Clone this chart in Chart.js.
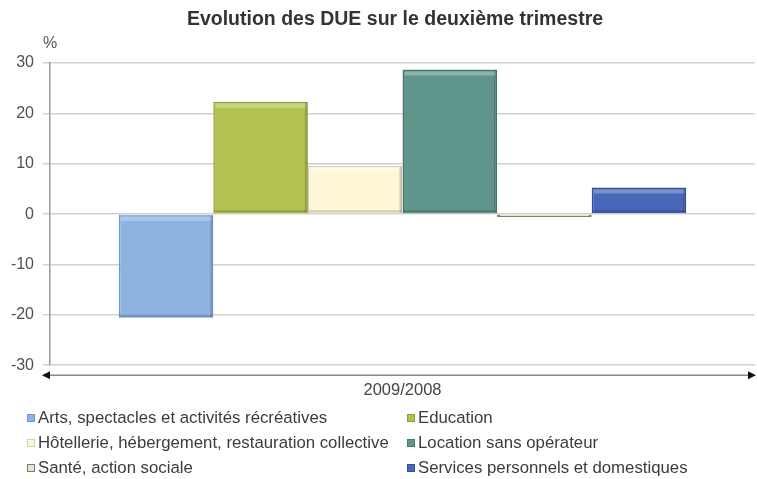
<!DOCTYPE html>
<html>
<head>
<meta charset="utf-8">
<script src="https://cdn.jsdelivr.net/npm/chart.js@4"></script>
<style>
  html, body { margin: 0; padding: 0; background: #fff; }
  #wrap { position: relative; width: 757px; height: 479px; }
  #legend {
    position: absolute; left: 0; top: 0; width: 757px; height: 479px;
    pointer-events: none;
    font-family: "Liberation Sans", Arial, sans-serif; font-size: 16.8px; color: #3c3c3c;
  }
  .item { position: absolute; white-space: nowrap; line-height: 20px; }
  .box { position: absolute; width: 8px; height: 8px; top: 6px; box-sizing: border-box; border: 1px solid; }
</style>
</head>
<body>
<div id="wrap">
  <canvas id="chart" width="757" height="479"></canvas>
  <div id="legend"></div>
</div>
<script>
// Data
const categories = ["2009/2008"];
const seriesNames = [
  "Arts, spectacles et activités récréatives",
  "Education",
  "Hôtellerie, hébergement, restauration collective",
  "Location sans opérateur",
  "Santé, action sociale",
  "Services personnels et domestiques",
];
const seriesValues = [-20.6, 22.3, 9.6, 28.7, -0.6, 5.3];
const yTicks = { min: -30, max: 30, step: 10 };

const fillColors = ["#8db3e0", "#b3c250", "#fdf7d8", "#5f958b", "#dde7d1", "#4767b8"];
const edgeColors = ["#7397c4", "#8e9c38", "#d8d1b2", "#4a7870", "#7d7d72", "#36519a"];

const FONT = "'Liberation Sans', Arial, sans-serif";
const TITLE = "Evolution des DUE sur le deuxième trimestre";

// Bevel-like shading on each bar (light top band, dark right edge)
const bevel = {
  id: "bevel",
  afterDatasetsDraw(chart) {
    const { ctx } = chart;
    ctx.save();
    chart.data.datasets.forEach((ds, i) => {
      chart.getDatasetMeta(i).data.forEach((bar) => {
        const left = bar.x - bar.width / 2;
        const right = bar.x + bar.width / 2;
        const top = Math.min(bar.y, bar.base);
        const bottom = Math.max(bar.y, bar.base);
        const h = bottom - top;
        if (h < 8) return;
        ctx.fillStyle = "rgba(255,255,255,0.28)";
        ctx.fillRect(left + 2, top + 2, right - left - 4, 4);
        ctx.fillStyle = "rgba(0,0,0,0.18)";
        ctx.fillRect(right - 3, top + 1, 2, h - 2);
        ctx.fillRect(left + 1, bottom - 3, right - left - 2, 2);
      });
    });
    ctx.restore();
  },
};

// Title, "%" unit label and the double-headed arrow line under the plot
const decorations = {
  id: "decorations",
  afterDraw(chart) {
    const { ctx, chartArea } = chart;
    ctx.save();
    ctx.fillStyle = "#333";
    ctx.font = "bold 19.5px " + FONT;
    ctx.textAlign = "center";
    ctx.textBaseline = "middle";
    ctx.fillText(TITLE, 395, 20);

    ctx.fillStyle = "#555";
    ctx.font = "16px " + FONT;
    ctx.fillText("%", chartArea.left, chartArea.top - 19);

    const y = chartArea.bottom + 10;
    const x0 = chartArea.left - 8;
    const x1 = chart.width - 1;
    ctx.strokeStyle = "#8a8a8a";
    ctx.lineWidth = 1.5;
    ctx.beginPath();
    ctx.moveTo(x0 + 4, y);
    ctx.lineTo(x1 - 4, y);
    ctx.stroke();
    ctx.fillStyle = "#111";
    ctx.beginPath();
    ctx.moveTo(x0, y); ctx.lineTo(x0 + 8, y - 4); ctx.lineTo(x0 + 8, y + 4); ctx.closePath();
    ctx.fill();
    ctx.beginPath();
    ctx.moveTo(x1, y); ctx.lineTo(x1 - 8, y - 4); ctx.lineTo(x1 - 8, y + 4); ctx.closePath();
    ctx.fill();
    ctx.restore();
  },
};

const chart = new Chart(document.getElementById("chart"), {
  type: "bar",
  data: {
    labels: categories,
    datasets: seriesNames.map((name, i) => ({
      label: name,
      data: [seriesValues[i]],
      backgroundColor: fillColors[i],
      borderColor: edgeColors[i],
      borderWidth: i === 4 ? 3 : 1.5,
    })),
  },
  options: {
    responsive: false,
    animation: false,
    layout: { padding: { top: 63, right: 2, bottom: 64, left: 0 } },
    datasets: { bar: { barPercentage: 1, categoryPercentage: 0.805 } },
    plugins: {
      legend: { display: false },
      tooltip: { enabled: false },
      title: { display: false },
    },
    scales: {
      x: {
        grid: { display: false, drawTicks: false },
        border: { display: false },
        ticks: { color: "#444", font: { family: FONT, size: 16.5 }, padding: 15 },
      },
      y: {
        min: yTicks.min,
        max: yTicks.max,
        afterFit(scale) { scale.width = 50; },
        grid: { color: "#d6cfca", lineWidth: 1.5, tickLength: 7 },
        border: { color: "#9d9793", width: 1.5 },
        ticks: {
          stepSize: yTicks.step,
          padding: 9,
          color: "#505050",
          font: { family: FONT, size: 16 },
        },
      },
    },
  },
  plugins: [bevel, decorations],
});

// Two-column legend under the chart, built from the same series
const legend = document.getElementById("legend");
const colX = [27, 407];
const rowY = [408, 433, 458];
seriesNames.forEach((name, i) => {
  const col = i % 2;
  const row = Math.floor(i / 2);
  const item = document.createElement("div");
  item.className = "item";
  item.style.left = colX[col] + "px";
  item.style.top = rowY[row] + "px";
  item.style.paddingLeft = "11px";
  const box = document.createElement("span");
  box.className = "box";
  box.style.left = "0px";
  box.style.background = fillColors[i];
  box.style.borderColor = edgeColors[i];
  item.appendChild(box);
  item.appendChild(document.createTextNode(name));
  legend.appendChild(item);
});
</script>
</body>
</html>
